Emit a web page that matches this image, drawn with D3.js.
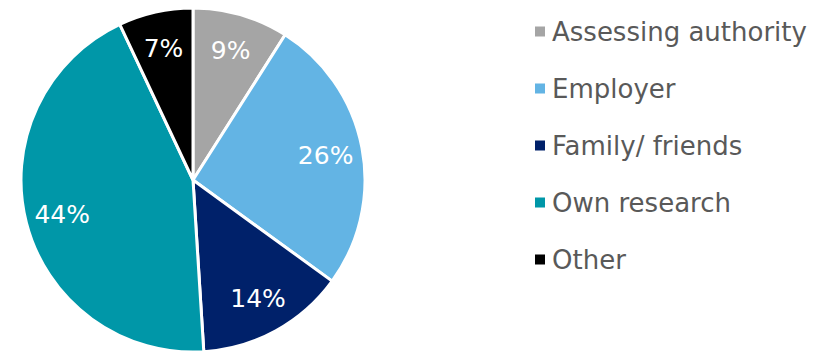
<!DOCTYPE html>
<html>
<head>
<meta charset="utf-8">
<script src="https://cdn.jsdelivr.net/npm/d3@7"></script>
<style>
  html, body { margin: 0; padding: 0; background: #fff; }
  svg { display: block; }
</style>
</head>
<body>
<svg id="chart" width="830" height="351"></svg>
<script>
const categories = ["Assessing authority", "Employer", "Family/ friends", "Own research", "Other"];
const values = [9, 26, 14, 44, 7];
const colors = ["#a5a5a5", "#63b4e4", "#00216a", "#0097a8", "#000000"];

const svg = d3.select("#chart");
const cx = 193, cy = 180, radius = 172;

const data = categories.map((c, i) => ({ name: c, value: values[i], color: colors[i] }));

const pie = d3.pie().value(d => d.value).sort(null);
const arc = d3.arc().innerRadius(0).outerRadius(radius);
const labelArc = d3.arc().innerRadius(radius * 0.785).outerRadius(radius * 0.785);

const g = svg.append("g").attr("transform", `translate(${cx},${cy})`);
const arcs = pie(data);

g.selectAll("path")
  .data(arcs)
  .join("path")
  .attr("d", arc)
  .attr("fill", d => d.data.color)
  .attr("stroke", "#fff")
  .attr("stroke-width", 3)
  .attr("stroke-linejoin", "round");

g.selectAll("text")
  .data(arcs)
  .join("text")
  .attr("transform", d => `translate(${labelArc.centroid(d)})`)
  .attr("text-anchor", "middle")
  .attr("dy", "0.36em")
  .attr("fill", "#fff")
  .attr("font-family", "DejaVu Sans, Verdana, sans-serif")
  .attr("font-size", 25)
  .text(d => d.data.value + "%");

// Legend
const legend = svg.append("g").attr("transform", "translate(535,31.5)");
const row = legend.selectAll("g")
  .data(data)
  .join("g")
  .attr("transform", (d, i) => `translate(0,${i * 57})`);

row.append("rect")
  .attr("x", 0).attr("y", -5)
  .attr("width", 10).attr("height", 10)
  .attr("fill", d => d.color);

row.append("text")
  .attr("x", 17)
  .attr("dy", "0.36em")
  .attr("fill", "#595959")
  .attr("font-family", "DejaVu Sans, Verdana, sans-serif")
  .attr("font-size", 26)
  .text(d => d.name);
</script>
</body>
</html>
